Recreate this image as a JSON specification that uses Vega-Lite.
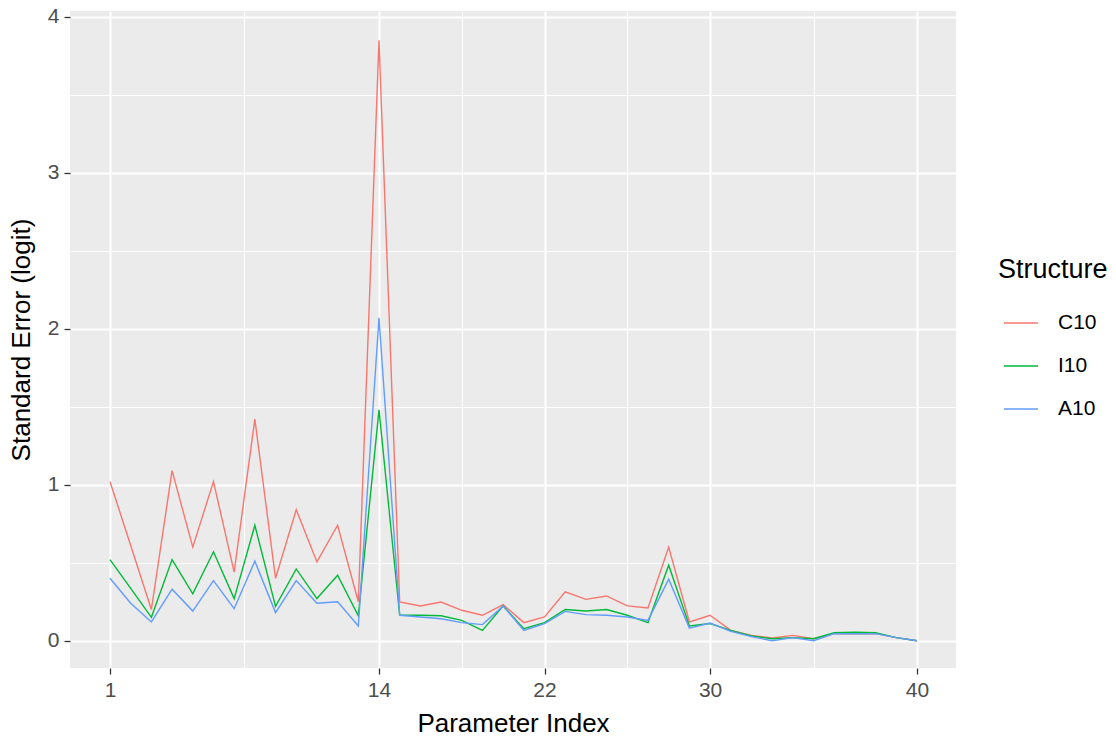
{
  "$schema": "https://vega.github.io/schema/vega-lite/v6.json",
  "width": 886,
  "height": 657,
  "autosize": {"type": "none"},
  "padding": {"left": 70, "top": 11, "right": 160, "bottom": 73},
  "background": "white",
  "config": {
    "font": "Liberation Sans",
    "view": {"stroke": null, "fill": "#EBEBEB"},
    "axis": {
      "domain": false,
      "gridColor": "#FFFFFF",
      "labelFont": "Liberation Sans",
      "titleFont": "Liberation Sans",
      "labelColor": "#4D4D4D",
      "labelFontSize": 21,
      "tickColor": "#333333",
      "tickSize": 6,
      "tickWidth": 1.3,
      "titleColor": "#000000",
      "titleFontSize": 26,
      "titleFontWeight": "normal"
    },
    "legend": {
      "titleFont": "Liberation Sans",
      "labelFont": "Liberation Sans"
    }
  },
  "data": {
    "values": [
      {"i":1,"s":"C10","v":1.02},{"i":2,"s":"C10","v":0.61},{"i":3,"s":"C10","v":0.2},{"i":4,"s":"C10","v":1.09},{"i":5,"s":"C10","v":0.6},
      {"i":6,"s":"C10","v":1.02},{"i":7,"s":"C10","v":0.44},{"i":8,"s":"C10","v":1.42},{"i":9,"s":"C10","v":0.4},{"i":10,"s":"C10","v":0.84},
      {"i":11,"s":"C10","v":0.505},{"i":12,"s":"C10","v":0.74},{"i":13,"s":"C10","v":0.25},{"i":14,"s":"C10","v":3.85},{"i":15,"s":"C10","v":0.248},
      {"i":16,"s":"C10","v":0.223},{"i":17,"s":"C10","v":0.248},{"i":18,"s":"C10","v":0.195},{"i":19,"s":"C10","v":0.163},{"i":20,"s":"C10","v":0.231},
      {"i":21,"s":"C10","v":0.116},{"i":22,"s":"C10","v":0.152},{"i":23,"s":"C10","v":0.313},{"i":24,"s":"C10","v":0.265},{"i":25,"s":"C10","v":0.287},
      {"i":26,"s":"C10","v":0.223},{"i":27,"s":"C10","v":0.21},{"i":28,"s":"C10","v":0.6},{"i":29,"s":"C10","v":0.12},{"i":30,"s":"C10","v":0.163},
      {"i":31,"s":"C10","v":0.066},{"i":32,"s":"C10","v":0.034},{"i":33,"s":"C10","v":0.017},{"i":34,"s":"C10","v":0.034},{"i":35,"s":"C10","v":0.013},
      {"i":36,"s":"C10","v":0.045},{"i":37,"s":"C10","v":0.045},{"i":38,"s":"C10","v":0.045},{"i":39,"s":"C10","v":0.02},{"i":40,"s":"C10","v":0.0},
      {"i":1,"s":"I10","v":0.52},{"i":2,"s":"I10","v":0.335},{"i":3,"s":"I10","v":0.15},{"i":4,"s":"I10","v":0.52},{"i":5,"s":"I10","v":0.3},
      {"i":6,"s":"I10","v":0.57},{"i":7,"s":"I10","v":0.27},{"i":8,"s":"I10","v":0.74},{"i":9,"s":"I10","v":0.22},{"i":10,"s":"I10","v":0.46},
      {"i":11,"s":"I10","v":0.27},{"i":12,"s":"I10","v":0.42},{"i":13,"s":"I10","v":0.16},{"i":14,"s":"I10","v":1.48},{"i":15,"s":"I10","v":0.163},
      {"i":16,"s":"I10","v":0.163},{"i":17,"s":"I10","v":0.16},{"i":18,"s":"I10","v":0.13},{"i":19,"s":"I10","v":0.066},{"i":20,"s":"I10","v":0.223},
      {"i":21,"s":"I10","v":0.077},{"i":22,"s":"I10","v":0.116},{"i":23,"s":"I10","v":0.2},{"i":24,"s":"I10","v":0.19},{"i":25,"s":"I10","v":0.2},
      {"i":26,"s":"I10","v":0.163},{"i":27,"s":"I10","v":0.116},{"i":28,"s":"I10","v":0.484},{"i":29,"s":"I10","v":0.094},{"i":30,"s":"I10","v":0.11},
      {"i":31,"s":"I10","v":0.066},{"i":32,"s":"I10","v":0.03},{"i":33,"s":"I10","v":0.013},{"i":34,"s":"I10","v":0.02},{"i":35,"s":"I10","v":0.013},
      {"i":36,"s":"I10","v":0.051},{"i":37,"s":"I10","v":0.055},{"i":38,"s":"I10","v":0.051},{"i":39,"s":"I10","v":0.02},{"i":40,"s":"I10","v":0.0},
      {"i":1,"s":"A10","v":0.4},{"i":2,"s":"A10","v":0.24},{"i":3,"s":"A10","v":0.12},{"i":4,"s":"A10","v":0.33},{"i":5,"s":"A10","v":0.19},
      {"i":6,"s":"A10","v":0.385},{"i":7,"s":"A10","v":0.205},{"i":8,"s":"A10","v":0.51},{"i":9,"s":"A10","v":0.18},{"i":10,"s":"A10","v":0.385},
      {"i":11,"s":"A10","v":0.24},{"i":12,"s":"A10","v":0.25},{"i":13,"s":"A10","v":0.094},{"i":14,"s":"A10","v":2.07},{"i":15,"s":"A10","v":0.163},
      {"i":16,"s":"A10","v":0.152},{"i":17,"s":"A10","v":0.141},{"i":18,"s":"A10","v":0.116},{"i":19,"s":"A10","v":0.103},{"i":20,"s":"A10","v":0.223},
      {"i":21,"s":"A10","v":0.066},{"i":22,"s":"A10","v":0.109},{"i":23,"s":"A10","v":0.188},{"i":24,"s":"A10","v":0.167},{"i":25,"s":"A10","v":0.163},
      {"i":26,"s":"A10","v":0.152},{"i":27,"s":"A10","v":0.13},{"i":28,"s":"A10","v":0.394},{"i":29,"s":"A10","v":0.081},{"i":30,"s":"A10","v":0.113},
      {"i":31,"s":"A10","v":0.06},{"i":32,"s":"A10","v":0.026},{"i":33,"s":"A10","v":0.0},{"i":34,"s":"A10","v":0.02},{"i":35,"s":"A10","v":0.0},
      {"i":36,"s":"A10","v":0.045},{"i":37,"s":"A10","v":0.045},{"i":38,"s":"A10","v":0.045},{"i":39,"s":"A10","v":0.02},{"i":40,"s":"A10","v":0.0}
    ]
  },
  "layer": [
    {
      "mark": {"type": "line", "strokeOpacity": 0},
      "encoding": {
        "x": {
          "field": "i", "type": "quantitative",
          "scale": {"domain": [-0.933, 41.885], "nice": false, "zero": false},
          "axis": {"orient": "bottom", "values": [7.5, 18, 26, 35], "grid": true, "gridWidth": 1, "labels": false, "ticks": false, "title": null}
        },
        "y": {
          "field": "v", "type": "quantitative",
          "scale": {"domain": [-0.175, 4.037], "nice": false, "zero": false},
          "axis": {"orient": "left", "values": [0.5, 1.5, 2.5, 3.5], "grid": true, "gridWidth": 1, "labels": false, "ticks": false, "title": null}
        },
        "detail": {"field": "s", "type": "nominal"}
      }
    },
    {
      "mark": {"type": "line", "strokeWidth": 1.4},
      "encoding": {
        "x": {
          "field": "i", "type": "quantitative",
          "axis": {"orient": "bottom", "values": [1, 14, 22, 30, 40], "format": "d", "grid": true, "gridWidth": 2, "labelPadding": 5, "title": "Parameter Index", "titlePadding": 10}
        },
        "y": {
          "field": "v", "type": "quantitative",
          "axis": {"orient": "left", "values": [0, 1, 2, 3, 4], "format": "d", "grid": true, "gridWidth": 2, "labelPadding": 5, "title": "Standard Error (logit)", "titlePadding": 13}
        },
        "color": {
          "field": "s", "type": "nominal", "title": "Structure",
          "scale": {"domain": ["C10", "I10", "A10"], "range": ["#F8766D", "#00BA38", "#619CFF"]},
          "legend": {
            "orient": "none", "legendX": 928, "legendY": 246, "padding": 0,
            "titleFontSize": 27, "titleFontWeight": "normal", "titleColor": "#000000", "titlePadding": 21,
            "labelFontSize": 21, "labelColor": "#000000", "labelOffset": 19,
            "symbolType": "stroke", "symbolSize": 1156, "symbolStrokeWidth": 1.4, "symbolOffset": 5,
            "rowPadding": 15
          }
        }
      }
    }
  ],
  "resolve": {"axis": {"x": "independent", "y": "independent"}}
}
